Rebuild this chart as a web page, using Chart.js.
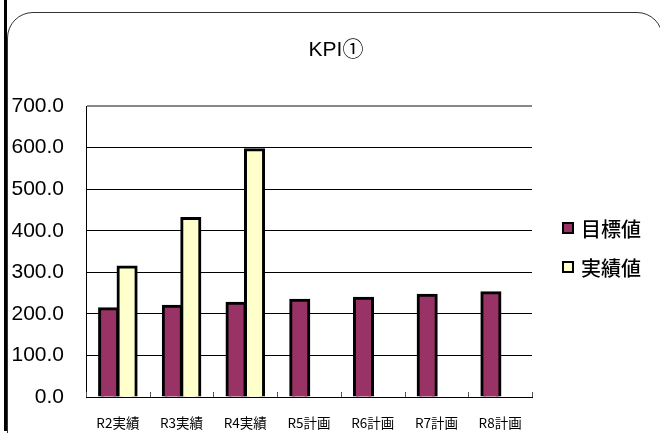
<!DOCTYPE html>
<html>
<head>
<meta charset="utf-8">
<script src="https://cdn.jsdelivr.net/npm/chart.js@4.4.1/dist/chart.umd.min.js"></script>
<style>
  html, body { margin: 0; padding: 0; background: #fff; overflow: hidden; }
  #wrap { position: relative; width: 660px; height: 433px; }
  #frame { position: absolute; left: 7px; top: 12px; width: 656px; height: 450px;
           border: 1px solid #333; border-radius: 26px; box-sizing: border-box; }
  #bar { position: absolute; left: 4px; top: 0; width: 3px; height: 431px; background: #000; }
  canvas { position: absolute; left: 0; top: 0; }
</style>
</head>
<body>
<div id="wrap">
  <div id="frame"></div>
  <div id="bar"></div>
  <canvas id="c" width="660" height="433"></canvas>
</div>
<script>
const titleText = 'KPI①';
const categories = ['R2実績', 'R3実績', 'R4実績', 'R5計画', 'R6計画', 'R7計画', 'R8計画'];
const targetLabel = '目標値';
const actualLabel = '実績値';
const targetValues = [213, 219, 226, 233, 238, 245, 251];
const actualValues = [313, 430, 595, null, null, null, null];
const yTicks = [0, 100, 200, 300, 400, 500, 600, 700];

const JP = "'Noto Sans CJK JP', sans-serif";
const NUM = "'Liberation Sans', 'Noto Sans CJK JP', sans-serif";

const overlay = {
  id: 'overlay',
  afterDraw(chart) {
    const ctx = chart.ctx;
    const area = chart.chartArea;
    const xs = chart.scales.x;
    ctx.save();
    ctx.strokeStyle = '#555';
    ctx.lineWidth = 1;
    for (let i = 0; i <= categories.length; i++) {
      const x = Math.round(xs.getPixelForValue(i - 0.5)) + 0.5;
      ctx.beginPath();
      ctx.moveTo(x, area.bottom - 5);
      ctx.lineTo(x, area.bottom);
      ctx.stroke();
    }
    ctx.fillStyle = '#000';
    ctx.font = '21px ' + NUM;
    ctx.textAlign = 'center';
    ctx.textBaseline = 'middle';
    ctx.fillText(titleText, 336, 50);
    ctx.textAlign = 'left';
    ctx.font = '500 20px ' + JP;
    const rows = [
      { ds: chart.data.datasets[0], y: 228 },
      { ds: chart.data.datasets[1], y: 267 }
    ];
    rows.forEach(r => {
      ctx.fillStyle = r.ds.backgroundColor;
      ctx.fillRect(563, r.y - 5, 10, 10);
      ctx.strokeStyle = '#000';
      ctx.lineWidth = 2;
      ctx.strokeRect(563, r.y - 5, 10, 10);
      ctx.fillStyle = '#000';
      ctx.fillText(r.ds.label, 581, r.y + 1);
    });
    ctx.restore();
  }
};

new Chart(document.getElementById('c'), {
  type: 'bar',
  data: {
    labels: categories,
    datasets: [
      { label: targetLabel, data: targetValues, backgroundColor: '#993366',
        borderColor: '#000', borderWidth: 3, inflateAmount: 1.3 },
      { label: actualLabel, data: actualValues, backgroundColor: '#FFFFCC',
        borderColor: '#000', borderWidth: 3, inflateAmount: 1.3 }
    ]
  },
  options: {
    responsive: false,
    animation: false,
    devicePixelRatio: 1,
    layout: { padding: { top: 106, right: 128, left: 0, bottom: 0 } },
    datasets: { bar: { categoryPercentage: 0.58, barPercentage: 1.0 } },
    plugins: {
      legend: { display: false },
      title: { display: false },
      tooltip: { enabled: false }
    },
    scales: {
      x: {
        grid: { display: false },
        border: { display: true, color: '#000', width: 1 },
        ticks: { color: '#000', font: { family: JP, size: 13.5 }, padding: 10, maxRotation: 0 },
        afterFit(axis) { axis.height = 36; }
      },
      y: {
        min: 0, max: 700,
        afterBuildTicks(axis) { axis.ticks = yTicks.map(v => ({ value: v })); },
        grid: {
          drawTicks: false,
          color: ctx => (ctx.tick && ctx.tick.value === 700) ? '#888' : '#000',
          lineWidth: ctx => (ctx.tick && ctx.tick.value === 700) ? 2 : 1
        },
        border: { display: true, color: '#000', width: 1 },
        ticks: {
          color: '#000',
          font: { family: NUM, size: 21 },
          padding: 22,
          callback: v => Number(v).toFixed(1)
        },
        afterFit(axis) { axis.width = 86; }
      }
    }
  },
  plugins: [overlay]
});
</script>
</body>
</html>
